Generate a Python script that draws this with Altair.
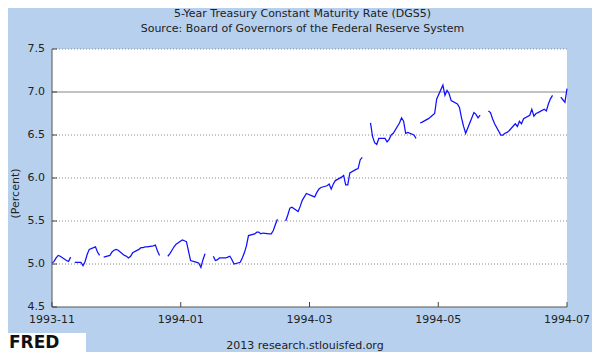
import altair as alt
import pandas as pd

# ---------------- data ----------------
dates = [
    "1993-11-01", "1993-11-02", "1993-11-03", "1993-11-04", "1993-11-05",
    "1993-11-08", "1993-11-09", "1993-11-10", "1993-11-11", "1993-11-12",
    "1993-11-15", "1993-11-16", "1993-11-17", "1993-11-18", "1993-11-19",
    "1993-11-22", "1993-11-23", "1993-11-24", "1993-11-25", "1993-11-26",
    "1993-11-29", "1993-11-30", "1993-12-01", "1993-12-02", "1993-12-03",
    "1993-12-06", "1993-12-07", "1993-12-08", "1993-12-09", "1993-12-10",
    "1993-12-13", "1993-12-14", "1993-12-15", "1993-12-16", "1993-12-17",
    "1993-12-20", "1993-12-21", "1993-12-22", "1993-12-23", "1993-12-24",
    "1993-12-27", "1993-12-28", "1993-12-29", "1993-12-30", "1993-12-31",
    "1994-01-03", "1994-01-04", "1994-01-05", "1994-01-06", "1994-01-07",
    "1994-01-10", "1994-01-11", "1994-01-12", "1994-01-13", "1994-01-14",
    "1994-01-17", "1994-01-18", "1994-01-19", "1994-01-20", "1994-01-21",
    "1994-01-24", "1994-01-25", "1994-01-26", "1994-01-27", "1994-01-28",
    "1994-01-31", "1994-02-01", "1994-02-02", "1994-02-03", "1994-02-04",
    "1994-02-07", "1994-02-08", "1994-02-09", "1994-02-10", "1994-02-11",
    "1994-02-14", "1994-02-15", "1994-02-16", "1994-02-17", "1994-02-18",
    "1994-02-21", "1994-02-22", "1994-02-23", "1994-02-24", "1994-02-25",
    "1994-02-28", "1994-03-01", "1994-03-02", "1994-03-03", "1994-03-04",
    "1994-03-07", "1994-03-08", "1994-03-09", "1994-03-10", "1994-03-11",
    "1994-03-14", "1994-03-15", "1994-03-16", "1994-03-17", "1994-03-18",
    "1994-03-21", "1994-03-22", "1994-03-23", "1994-03-24", "1994-03-25",
    "1994-03-28", "1994-03-29", "1994-03-30", "1994-03-31", "1994-04-01",
    "1994-04-04", "1994-04-05", "1994-04-06", "1994-04-07", "1994-04-08",
    "1994-04-11", "1994-04-12", "1994-04-13", "1994-04-14", "1994-04-15",
    "1994-04-18", "1994-04-19", "1994-04-20", "1994-04-21", "1994-04-22",
    "1994-04-25", "1994-04-26", "1994-04-27", "1994-04-28", "1994-04-29",
    "1994-05-02", "1994-05-03", "1994-05-04", "1994-05-05", "1994-05-06",
    "1994-05-09", "1994-05-10", "1994-05-11", "1994-05-12", "1994-05-13",
    "1994-05-16", "1994-05-17", "1994-05-18", "1994-05-19", "1994-05-20",
    "1994-05-23", "1994-05-24", "1994-05-25", "1994-05-26", "1994-05-27",
    "1994-05-30", "1994-05-31", "1994-06-01", "1994-06-02", "1994-06-03",
    "1994-06-06", "1994-06-07", "1994-06-08", "1994-06-09", "1994-06-10",
    "1994-06-13", "1994-06-14", "1994-06-15", "1994-06-16", "1994-06-17",
    "1994-06-20", "1994-06-21", "1994-06-22", "1994-06-23", "1994-06-24",
    "1994-06-27", "1994-06-28", "1994-06-29", "1994-06-30", "1994-07-01",
    "1994-07-04", "1994-07-05", "1994-07-06", "1994-07-07", "1994-07-08",
]

rates = [
    5.01, 5.03, 5.07, 5.10, 5.09,
    5.04, 5.03, 5.08, None, 5.02,
    5.02, 4.98, 5.03, 5.11, 5.17,
    5.20, 5.14, 5.10, None, 5.08,
    5.10, 5.14, 5.16, 5.17, 5.16,
    5.10, 5.09, 5.07, 5.09, 5.13,
    5.17, 5.19, 5.19, 5.20, 5.20,
    5.21, 5.22, 5.15, 5.10, None,
    5.09, 5.12, 5.16, 5.20, 5.23,
    5.28, 5.27, 5.26, 5.15, 5.04,
    5.02, 5.01, 4.96, 5.05, 5.12,
    None, 5.09, 5.04, 5.05, 5.07,
    5.07, 5.08, 5.09, 5.05, 5.00,
    5.02, 5.07, 5.13, 5.21, 5.33,
    5.35, 5.37, 5.37, 5.35, 5.36,
    5.35, 5.35, 5.39, 5.46, 5.52,
    None, 5.50, 5.57, 5.65, 5.66,
    5.61, 5.67, 5.74, 5.78, 5.82,
    5.79, 5.78, 5.83, 5.87, 5.89,
    5.91, 5.93, 5.87, 5.93, 5.97,
    6.01, 6.03, 5.92, 5.92, 6.06,
    6.10, 6.11, 6.21, 6.24, None,
    6.64, 6.48, 6.41, 6.39, 6.46,
    6.46, 6.42, 6.45, 6.50, 6.52,
    6.64, 6.70, 6.66, 6.52, 6.53,
    6.50, 6.46, None, 6.64, 6.65,
    6.69, 6.71, 6.73, 6.75, 6.92,
    7.08, 6.96, 7.02, 6.98, 6.90,
    6.86, 6.82, 6.70, 6.60, 6.52,
    6.70, 6.76, 6.74, 6.70, 6.73,
    None, 6.78, 6.76, 6.69, 6.63,
    6.50, 6.50, 6.52, 6.53, 6.55,
    6.63, 6.60, 6.66, 6.63, 6.69,
    6.73, 6.80, 6.72, 6.75, 6.76,
    6.80, 6.78, 6.86, 6.92, 6.96,
    None, 6.94, 6.91, 6.88, 7.04,
]

y_ticks = [4.5, 5.0, 5.5, 6.0, 6.5, 7.0, 7.5]
y_dotted = [5.0, 5.5, 6.0, 6.5, 7.5]
y_solid = [7.0]
x_domain = ["1993-11-01T00:00:00Z", "1994-07-08T00:00:00Z"]
x_ticks = ["1993-11-01T00:00:00Z", "1994-01-02T06:00:00Z", "1994-03-05T12:00:00Z",
           "1994-05-06T18:00:00Z", "1994-07-08T00:00:00Z"]
x_labels = ["1993-11", "1994-01", "1994-03", "1994-05", "1994-07"]

title_1 = "5-Year Treasury Constant Maturity Rate (DGS5)"
title_2 = "Source: Board of Governors of the Federal Reserve System"
y_title = "(Percent)"
footer = "2013 research.stlouisfed.org"
logo = "FRED"

# ---------------- build tables ----------------
df = pd.DataFrame({"date": dates, "rate": rates})
df["seg"] = df["rate"].isna().cumsum()
df = df.dropna().reset_index(drop=True)

ytick_df = pd.DataFrame({"v": y_ticks, "lab": [f"{v:.1f}" for v in y_ticks]})
xtick_df = pd.DataFrame({"t": x_ticks, "lab": x_labels})


def dt(s):
    t = pd.Timestamp(s)
    return alt.DateTime(year=t.year, month=t.month, date=t.day, hours=t.hour, utc=True)


xscale = alt.Scale(type="utc", domain=[dt(s) for s in x_domain])
yscale = alt.Scale(domain=[4.5, 7.5], zero=False, nice=False)

FONT = "DejaVu Sans"
TXT = "#222222"
AX = "#555555"
W, H = 515, 258

line = alt.Chart(df).mark_line(color="#1010ff", strokeWidth=1.25).encode(
    x=alt.X("date:T", scale=xscale, axis=None),
    y=alt.Y("rate:Q", scale=yscale, axis=None),
    detail="seg:N",
)

grid_dot = alt.Chart(pd.DataFrame({"v": y_dotted})).mark_rule(
    color="#8c8c8c", strokeWidth=1, strokeDash=[1, 2]
).encode(y=alt.Y("v:Q", scale=yscale, axis=None))

grid_solid = alt.Chart(pd.DataFrame({"v": y_solid})).mark_rule(
    color="#c2c2c2", strokeWidth=2
).encode(y=alt.Y("v:Q", scale=yscale, axis=None))

ytick_marks = alt.Chart(ytick_df).mark_rule(color="#444444", strokeWidth=1).encode(
    y=alt.Y("v:Q", scale=yscale, axis=None), x=alt.value(0), x2=alt.value(5)
)
ytick_labels = alt.Chart(ytick_df).mark_text(
    font=FONT, fontSize=11, color=TXT, align="right", baseline="middle"
).encode(y=alt.Y("v:Q", scale=yscale, axis=None), x=alt.value(-7), text="lab:N")

xtick_marks = alt.Chart(xtick_df).mark_rule(color="#444444", strokeWidth=1).encode(
    x=alt.X("t:T", scale=xscale, axis=None), y=alt.value(H), y2=alt.value(H - 5)
)
xtick_labels = alt.Chart(xtick_df).mark_text(
    font=FONT, fontSize=11, color=TXT, align="center", baseline="top"
).encode(x=alt.X("t:T", scale=xscale, axis=None), y=alt.value(H + 7), text="lab:N")

one = alt.Data(values=[{}])

y_domain_line = alt.Chart(one).mark_rule(color=AX, strokeWidth=1).encode(
    x=alt.value(0), y=alt.value(0), y2=alt.value(H)
)
x_domain_line = alt.Chart(one).mark_rule(color=AX, strokeWidth=1).encode(
    x=alt.value(0), x2=alt.value(W), y=alt.value(H)
)


def label(text, x, y, size=11, angle=0, weight="normal", align="center", color=TXT):
    return alt.Chart(one).mark_text(
        text=text, font=FONT, fontSize=size, color=color, angle=angle,
        fontWeight=weight, align=align, baseline="middle"
    ).encode(x=alt.value(x), y=alt.value(y))


t1 = label(title_1, 250.5, -35.5)
t2 = label(title_2, 250.5, -20.5)
yt = label(y_title, -36.5, 144.5, angle=270)
ft = label(footer, 253, 296.5)

logo_box = alt.Chart(one).mark_rect(color="white").encode(
    x=alt.value(-46), x2=alt.value(34), y=alt.value(284), y2=alt.value(305)
)
logo_txt = label(logo, -43, 293.5, size=17, weight="bold", align="left", color="#111111")

chart = alt.layer(
    grid_dot, grid_solid, line, y_domain_line, x_domain_line,
    ytick_marks, ytick_labels, xtick_marks, xtick_labels,
    t1, t2, yt, ft, logo_box, logo_txt
).properties(
    width=W, height=H,
    padding={"left": 44, "top": 41, "right": 25, "bottom": 45},
    autosize=alt.AutoSizeParams(type="none"),
    background="#b7d0ee",
).configure_view(
    fill="white", stroke=None
)

chart.save("out.html", embed_options={"renderer": "svg", "actions": False})
